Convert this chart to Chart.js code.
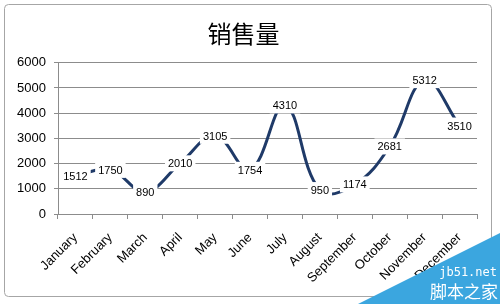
<!DOCTYPE html>
<html>
<head>
<meta charset="utf-8">
<script src="https://cdn.jsdelivr.net/npm/chart.js@4/dist/chart.umd.min.js"></script>
<style>
  html, body { margin: 0; padding: 0; background: #fff; }
  #wrap { width: 500px; height: 304px; }
</style>
</head>
<body>
<div id="wrap"><canvas id="sales-chart"></canvas></div>
<script>
const chartTitle = '销售量';
const months = [
    'January', 'February', 'March', 'April', 'May', 'June',
    'July', 'August', 'September', 'October', 'November', 'December'
];
const sales = [1512, 1750, 890, 2010, 3105, 1754, 4310, 950, 1174, 2681, 5312, 3510];
const yTicks = [0, 1000, 2000, 3000, 4000, 5000, 6000];

const FONT = '"Liberation Sans", Arial, sans-serif';

// number labels sitting on the points, white box hides the line behind them
const valueLabels = {
    id: 'valueLabels',
    afterDatasetsDraw(chart) {
        const ctx = chart.ctx;
        const meta = chart.getDatasetMeta(0);
        ctx.save();
        ctx.font = '11px ' + FONT;
        ctx.textAlign = 'center';
        ctx.textBaseline = 'middle';
        meta.data.forEach((pt, i) => {
            const txt = String(sales[i]);
            const w = ctx.measureText(txt).width + 6;
            ctx.fillStyle = '#fff';
            ctx.fillRect(pt.x - w / 2, pt.y - 8, w, 16);
            ctx.fillStyle = '#000';
            ctx.fillText(txt, pt.x, pt.y + 1);
        });
        ctx.restore();
    }
};

// excel chart frame + site watermark
const frame = {
    id: 'frame',
    afterDraw(chart) {
        const ctx = chart.ctx;
        ctx.save();
        ctx.strokeStyle = '#a6a6a6';
        ctx.lineWidth = 1;
        ctx.beginPath();
        ctx.roundRect(4.5, 4.5, 487, 292, 4);
        ctx.stroke();

        ctx.fillStyle = '#3ba6df';
        ctx.beginPath();
        ctx.moveTo(358, 304);
        ctx.lineTo(500, 233);
        ctx.lineTo(500, 304);
        ctx.closePath();
        ctx.fill();
        ctx.fillStyle = '#fff';
        ctx.textAlign = 'right';
        ctx.textBaseline = 'alphabetic';
        ctx.font = '12px "DejaVu Sans Mono", monospace';
        ctx.fillText('jb51.net', 497, 276);
        ctx.font = '17px "Noto Sans CJK SC", sans-serif';
        ctx.fillText('脚本之家', 498, 298);
        ctx.restore();
    }
};

function buildSalesChart(container) {
    const config = {
        type: 'line',
        data: {
            labels: months,
            datasets: [{
                label: chartTitle,
                data: sales,
                borderColor: '#1f3a68',
                borderWidth: 3,
                tension: 0.4,
                pointRadius: 0,
                fill: false
            }]
        },
        options: {
            responsive: true,
            maintainAspectRatio: false,
            animation: false,
            layout: { padding: { left: 10, right: 23, top: 0, bottom: 0 } },
            plugins: {
                legend: { display: false },
                tooltip: { enabled: false },
                title: {
                    display: true,
                    text: chartTitle,
                    color: '#000',
                    font: { family: '"Noto Sans CJK SC", sans-serif', size: 24, weight: 'normal' },
                    padding: { top: 19, bottom: 15 }
                }
            },
            scales: {
                x: {
                    offset: true,
                    grid: {
                        offset: true,
                        drawOnChartArea: false,
                        drawTicks: true,
                        tickLength: 5,
                        color: '#8c8c8c'
                    },
                    border: { color: '#8c8c8c' },
                    ticks: {
                        autoSkip: false,
                        maxRotation: 45,
                        minRotation: 45,
                        color: '#000',
                        padding: 11,
                        font: { family: FONT, size: 13 }
                    },
                    afterFit(scale) { scale.height = 90; }
                },
                y: {
                    min: 0,
                    max: 6000,
                    afterBuildTicks(scale) { scale.ticks = yTicks.map(v => ({ value: v })); },
                    grid: { color: '#8c8c8c', tickLength: 4 },
                    border: { color: '#8c8c8c' },
                    ticks: {
                        color: '#000',
                        padding: 8,
                        font: { family: FONT, size: 13 },
                        callback: (v) => String(v)
                    },
                    afterFit(scale) { scale.width = 48; }
                }
            }
        },
        plugins: [valueLabels, frame]
    };

    new Chart(container, config);
}

addEventListener('DOMContentLoaded', () => {
    const el = document.getElementById('sales-chart');
    if (el) {
        buildSalesChart(el);
    }
});
</script>
</body>
</html>
